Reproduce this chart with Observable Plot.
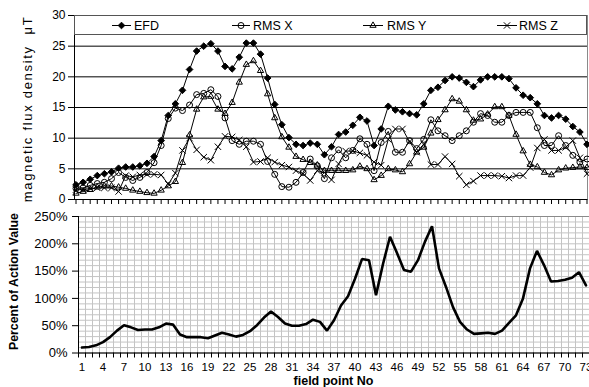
<!DOCTYPE html>
<html><head><meta charset="utf-8">
<script src="https://cdn.jsdelivr.net/npm/d3@7"></script>
<script src="https://cdn.jsdelivr.net/npm/@observablehq/plot@0.6"></script>
<style>
body{margin:0;background:#fff;}
#wrap{position:relative;width:589px;height:387px;overflow:hidden;background:#fff;}
#topc,#botc{position:absolute;left:0;}
#topc{top:0;} #botc{top:207px;}
</style></head><body><div id="wrap"><div id="botc"></div><div id="topc"></div></div>
<script>
// ---- data ----
const fieldPoints = [1,2,3,4,5,6,7,8,9,10,11,12,13,14,15,16,17,18,19,20,21,22,23,24,25,26,27,28,29,30,31,32,33,34,35,36,37,38,39,40,41,42,43,44,45,46,47,48,49,50,51,52,53,54,55,56,57,58,59,60,61,62,63,64,65,66,67,68,69,70,71,72,73];
const xTickLabels = [1,4,7,10,13,16,19,22,25,28,31,34,37,40,43,46,49,52,55,58,61,64,67,70,73];
const yTicksTop = [0,5,10,15,20,25,30];
const yTicksBottom = [0,50,100,150,200,250];
const bottomGrid = [10,20,30,40,50,60,70,80,90,100,110,120,130,140,150,160,170,180,190,200,210,220,230,240,250];
const seriesNames = ["EFD","RMS X","RMS Y","RMS Z"];
const topTitle = "magnetic flux density  μT";
const bottomTitle = "Percent of Action Value";
const xTitle = "field point No";

const efd = [2.4,2.8,3.3,3.9,4.2,4.5,5.1,5.3,5.3,5.5, 5.9,7.0,9.6,13.7,15.6,17.8,21.2,24.2,25.0,25.4, 24.2,21.7,21.3,23.2,25.5,25.5,23.7,19.8,15.5,12.2, 10.1,9.0,8.8,9.2,9.0,7.3,8.6,10.6,11.0,12.1, 13.4,12.8,8.8,11.5,15.2,14.6,14.3,14.0,13.8,15.6, 17.8,18.3,19.4,20.0,19.8,19.1,18.4,19.5,20.0,20.0, 20.0,19.7,18.2,17.0,16.6,15.6,13.7,13.3,13.7,13.1, 11.9,11.0,9.0];
const rmsX = [1.8,1.9,2.3,2.6,2.8,3.4,4.4,3.6,3.1,3.6, 4.4,6.0,8.8,13.2,14.9,14.5,15.4,17.1,17.3,17.9, 16.8,13.3,9.6,9.0,9.5,9.5,9.0,6.2,4.1,2.1, 2.0,2.8,4.4,6.6,5.5,3.4,6.8,8.1,6.8,8.0, 9.9,9.0,4.7,9.3,11.1,7.7,7.7,9.6,8.3,9.8, 13.0,11.2,10.4,9.6,10.4,11.2,12.6,14.0,13.7,12.6, 12.6,13.7,14.2,14.2,14.2,11.7,8.8,8.8,10.4,8.8, 7.2,6.1,6.6];
const rmsY = [1.0,1.3,1.6,2.0,2.2,2.2,2.0,1.8,1.5,1.3, 1.1,1.0,1.5,2.2,2.9,6.0,10.5,14.7,16.7,16.8, 14.7,14.0,15.8,19.1,22.0,22.6,21.0,17.2,13.3,10.2, 8.5,7.0,6.5,6.0,5.6,4.7,4.7,4.7,4.7,4.8, 5.4,5.0,3.2,3.9,5.0,4.8,4.5,5.8,7.7,8.5, 10.8,13.0,14.6,16.4,16.0,14.6,12.9,13.1,13.9,15.1, 15.1,13.7,10.6,7.9,5.7,5.3,4.4,4.0,4.8,5.1, 5.2,5.3,5.2];
const rmsZ = [1.6,1.6,1.8,1.9,1.9,1.9,1.3,3.9,3.7,4.0, 4.1,4.1,4.0,2.5,4.3,8.0,10.0,8.1,6.9,6.4, 8.6,10.3,10.2,9.7,8.6,6.1,6.2,6.8,6.1,5.6, 5.3,4.7,4.2,3.1,4.7,4.4,3.2,5.8,7.9,7.9, 7.6,7.2,6.1,5.6,9.8,11.5,11.5,9.4,7.7,9.0, 5.7,5.7,7.0,5.8,3.8,2.4,3.0,3.9,3.9,3.9, 3.8,3.5,3.9,3.9,5.2,8.4,9.8,8.0,8.0,8.5, 9.6,6.8,4.2];
const percentAction = [10,11,14,20,29,41,51,47,42,43, 43,47,54,52,34,29,29,29,27,32, 37,34,30,33,40,51,65,76,66,54, 50,50,53,61,57,41,60,87,104,136, 172,170,106,163,213,183,152,149,170,204, 232,155,121,84,57,43,35,36,37,35, 41,55,69,100,155,187,161,131,132,134, 138,148,124];

// ---- build tables ----
const seriesVals = [efd, rmsX, rmsY, rmsZ];
const symbols = ["diamond2","circle","triangle2","times"];
const fills = ["#000","none","none","none"];
const topRows = seriesNames.flatMap((s,k)=>fieldPoints.map((p,i)=>({p, v:seriesVals[k][i], s})));
const botRows = fieldPoints.map((p,i)=>({p, v:percentAction[i]}));
const boundaries = [fieldPoints[0]-0.5, ...fieldPoints.map(p=>p+0.5)];

const font = "'Liberation Sans',Arial,sans-serif";

const topChart = Plot.plot({
  width:589, height:207, marginLeft:74, marginRight:2, marginTop:15, marginBottom:8,
  x:{domain:[1,73], range:[75.5,586.5], axis:null},
  y:{domain:[0,30], range:[199,15], axis:null},
  style:{fontFamily:font, background:"#fff", color:"#000"},
  marks:[
    Plot.ruleY(yTicksTop.filter(t=>t>0 && t<30), {stroke:"#000", strokeWidth:1}),
    Plot.frame({stroke:"#8a8a8a"}),
    Plot.frame({anchor:"left", stroke:"#000"}),
    Plot.ruleY([0], {stroke:"#000"}),
    Plot.axisY({ticks:yTicksTop, tickSize:6, tickPadding:3, fontSize:12, label:null}),
    Plot.axisX({ticks:fieldPoints, tickSize:5, tickFormat:()=>"", label:null}),
    Plot.line(topRows, {x:"p", y:"v", z:"s", stroke:"#000", strokeWidth:1}),
    ...seriesNames.map((s,k)=>Plot.dot(topRows.filter(d=>d.s===s), {x:"p", y:"v", symbol:symbols[k], r:3, fill:fills[k], stroke:"#000", strokeWidth:1}))
  ]
});
const tsel = d3.select(topChart);
tsel.append("text").attr("transform","translate(27,109) rotate(-90)").attr("text-anchor","middle")
  .attr("dy","0.35em").attr("font-size",13).attr("letter-spacing","1.7px").attr("font-family",font).text(topTitle);

// legend
const lg = tsel.append("g");
lg.append("rect").attr("x",74.5).attr("y",15.5).attr("width",512).attr("height",19).attr("fill","#fff").attr("stroke","#555");
const legPos = [[112,131,134],[232,250,253],[363,383,387],[497,517,519]];
const symMap = {diamond2:d3.symbolDiamond2, circle:d3.symbolCircle, triangle2:d3.symbolTriangle2, times:d3.symbolTimes};
seriesNames.forEach((s,k)=>{
  const [a,b,t] = legPos[k]; const cy = 25.5;
  lg.append("line").attr("x1",a).attr("x2",b).attr("y1",cy).attr("y2",cy).attr("stroke","#000");
  lg.append("path").attr("d", d3.symbol(symMap[symbols[k]], 28)()).attr("transform",`translate(${(a+b)/2},${cy})`)
    .attr("fill", fills[k]).attr("stroke","#000");
  lg.append("text").attr("x",t).attr("y",cy).attr("dy","0.36em").attr("text-anchor","start")
    .attr("font-size",12.5).attr("font-family",font).text(s);
});
document.getElementById("topc").append(topChart);

const botChart = Plot.plot({
  width:589, height:180, marginLeft:78, marginRight:0, marginTop:9, marginBottom:34.5,
  x:{domain:[0.5,73.5], range:[78,589], axis:null},
  y:{domain:[0,250], range:[145.5,9], axis:null},
  style:{fontFamily:font, background:"#fff", color:"#000"},
  marks:[
    Plot.ruleX(boundaries, {stroke:"#c4c4c4"}),
    Plot.ruleY(bottomGrid, {stroke:"#c4c4c4"}),
    Plot.frame({stroke:"#8a8a8a"}),
    Plot.frame({anchor:"left", stroke:"#000"}),
    Plot.ruleY([0], {stroke:"#000"}),
    Plot.axisY({ticks:yTicksBottom, tickSize:6, tickPadding:5, tickFormat:d=>d+"%", fontSize:13, label:null}),
    Plot.axisX({ticks:boundaries, tickSize:5, tickFormat:()=>"", label:null}),
    Plot.axisX({ticks:xTickLabels, tickSize:0, tickPadding:10, fontSize:11.5, label:null}),
    Plot.line(botRows, {x:"p", y:"v", stroke:"#000", strokeWidth:2.6, strokeLinejoin:"miter"})
  ]
});
const bsel = d3.select(botChart);
bsel.append("text").attr("x",333.5).attr("y",173.5).attr("dy","0.35em").attr("text-anchor","middle")
  .attr("font-size",12.5).attr("font-weight","bold").attr("font-family",font).text(xTitle);
bsel.append("text").attr("transform","translate(14,143) rotate(-90)").attr("text-anchor","start")
  .attr("dy","0.35em").attr("font-size",12.3).attr("font-weight","bold").attr("font-family",font).text(bottomTitle);
document.getElementById("botc").append(botChart);
</script>
</body></html>
